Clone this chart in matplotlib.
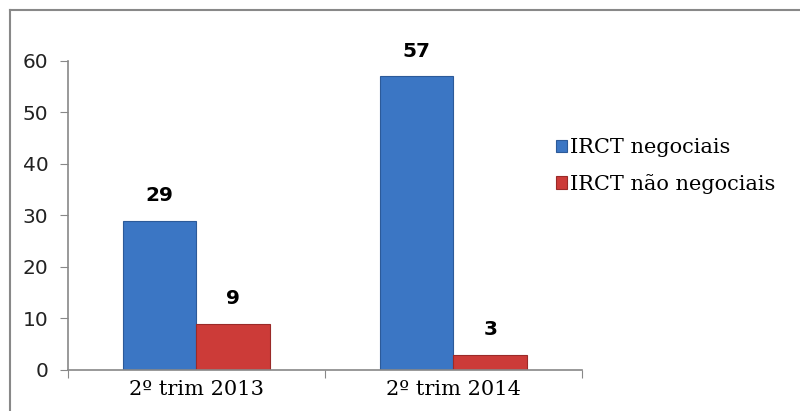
import matplotlib.pyplot as plt
from matplotlib.lines import Line2D
import numpy as np

categorias = ["2º trim 2013", "2º trim 2014"]
negociais = [29, 57]
nao_negociais = [9, 3]
series_nomes = ["IRCT negociais", "IRCT não negociais"]

fig = plt.figure(figsize=(8, 4.11), dpi=100)
ax = fig.add_axes([0.085, 0.0998, 0.6425, 0.7518])

x = np.arange(len(categorias))
w = 0.287
b1 = ax.bar(x - w / 2, negociais, w, color="#3b76c4", edgecolor="#2c5a99", linewidth=0.8, label=series_nomes[0])
b2 = ax.bar(x + w / 2, nao_negociais, w, color="#cc3b38", edgecolor="#9a2a28", linewidth=0.8, label=series_nomes[1])

for bars in (b1, b2):
    for r in bars:
        ax.annotate(str(int(r.get_height())), (r.get_x() + r.get_width() / 2, r.get_height()),
                    xytext=(0, 11), textcoords="offset points", ha="center", va="bottom",
                    fontsize=14.5, fontweight="bold", family="DejaVu Sans", color="black")

ax.set_xlim(-0.5, 1.5)
ax.set_ylim(0, 60)
ax.set_yticks(range(0, 61, 10))
ax.set_xticks([-0.5, 0.5, 1.5], minor=False)
ax.set_xticklabels([])
ax.set_xticks(x, minor=True)
ax.set_xticklabels(categorias, minor=True, family="DejaVu Serif", fontsize=15)
ax.tick_params(axis="x", which="minor", length=0, pad=7)
ax.tick_params(axis="x", which="major", length=6, color="#888888", direction="out")
ax.tick_params(axis="y", length=6, color="#888888", labelsize=14.5, labelcolor="#222222", pad=8)
for lbl in ax.get_yticklabels():
    lbl.set_family("DejaVu Sans")

for s in ("top", "right"):
    ax.spines[s].set_visible(False)
for s in ("left", "bottom"):
    ax.spines[s].set_color("#888888")
    ax.spines[s].set_linewidth(1.2)

leg = ax.legend(loc="center left", bbox_to_anchor=(0.912, 0.66), frameon=False,
                prop={"family": "DejaVu Serif", "size": 15}, handlelength=0.55,
                handleheight=0.55, handletextpad=0.15, labelspacing=0.8)

# moldura do gráfico
fig.add_artist(Line2D([10 / 800, 10 / 800], [0, 1 - 10 / 411], color="#888888", lw=1.5))
fig.add_artist(Line2D([10 / 800, 1], [1 - 10 / 411, 1 - 10 / 411], color="#888888", lw=1.5))

fig.savefig("out.png", dpi=100)
